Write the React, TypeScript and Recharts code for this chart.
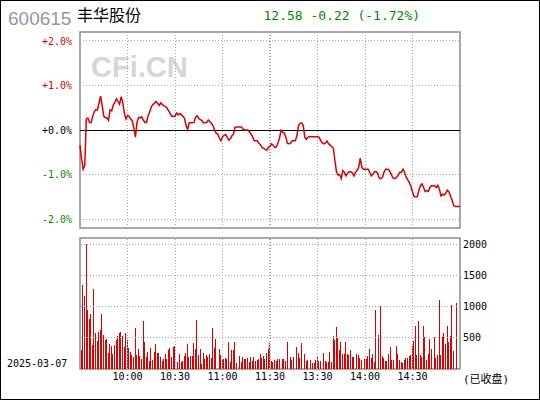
import React from 'react';
import { LineChart, Line, BarChart, Bar, XAxis, YAxis, ReferenceLine, ReferenceArea } from 'recharts';

const stockCode = '600615';
const stockName = '丰华股份';
const tradeDate = '2025-03-07';
const closedText = '(已收盘)';
const prevClose = 12.8;
const lastPrice = 12.58;

// % change vs previous close, one value per trading minute (09:30 .. 15:00)
const pctChange = [
  -0.34, -0.65, -0.88, -0.80, 0.25, 0.27, 0.17, 0.17, 0.30, 0.41,
  0.46, 0.45, 0.60, 0.76, 0.55, 0.31, 0.28, 0.27, 0.22, 0.45,
  0.43, 0.56, 0.62, 0.70, 0.64, 0.58, 0.75, 0.62, 0.38, 0.25,
  0.32, 0.31, 0.25, 0.21, 0.05, -0.16, 0.17, 0.28, 0.27, 0.30,
  0.22, 0.17, 0.17, 0.32, 0.40, 0.52, 0.57, 0.60, 0.64, 0.60,
  0.55, 0.61, 0.57, 0.54, 0.53, 0.49, 0.43, 0.37, 0.31, 0.31,
  0.31, 0.38, 0.34, 0.37, 0.34, 0.31, 0.26, 0.10, 0.01, 0.16,
  0.16, 0.16, 0.17, 0.29, 0.32, 0.26, 0.23, 0.21, 0.16, 0.17,
  0.17, 0.22, 0.19, 0.15, 0.10, 0.00, -0.07, -0.09, -0.18, -0.24,
  -0.15, -0.12, -0.10, -0.16, -0.23, -0.19, -0.13, -0.09, 0.07, 0.07,
  0.07, 0.07, 0.07, 0.02, 0.00, 0.00, 0.00, -0.04, -0.09, -0.15,
  -0.24, -0.24, -0.24, -0.30, -0.33, -0.39, -0.41, -0.44, -0.45, -0.39,
  -0.37, -0.31, -0.34, -0.39, -0.38, -0.30, -0.18, -0.01, -0.05, -0.07,
  -0.16, -0.30, -0.31, -0.30, -0.24, -0.24, -0.24, -0.13, 0.10, 0.15,
  0.16, 0.10, -0.16, -0.21, -0.16, -0.15, -0.15, -0.15, -0.15, -0.15,
  -0.15, -0.16, -0.24, -0.29, -0.31, -0.29, -0.25, -0.31, -0.34, -0.37,
  -0.41, -0.69, -0.94, -1.01, -1.00, -1.09, -0.91, -0.95, -1.03, -0.97,
  -0.94, -0.94, -0.96, -1.03, -0.95, -0.91, -0.84, -0.63, -0.84, -0.88,
  -0.88, -0.88, -0.88, -0.95, -1.03, -0.99, -0.94, -0.94, -0.97, -1.08,
  -1.09, -1.06, -0.95, -0.88, -0.88, -0.89, -0.95, -1.03, -1.09, -1.09,
  -1.06, -1.01, -0.95, -0.95, -0.88, -0.95, -1.06, -1.12, -1.18, -1.27,
  -1.39, -1.49, -1.50, -1.50, -1.36, -1.25, -1.21, -1.29, -1.38, -1.36,
  -1.38, -1.29, -1.25, -1.25, -1.25, -1.29, -1.24, -1.33, -1.48, -1.44,
  -1.46, -1.42, -1.35, -1.39, -1.48, -1.57, -1.70, -1.72, -1.72, -1.72,
  -1.72,
];

// volume per minute
const volumes = [
  0, 310, 1350, 1170, 2000, 950, 805, 885, 390, 1280,
  575, 455, 600, 620, 885, 550, 470, 485, 255, 405,
  375, 245, 390, 470, 535, 575, 600, 535, 345, 570,
  470, 340, 275, 230, 185, 660, 230, 325, 210, 155,
  775, 435, 195, 275, 130, 340, 140, 275, 405, 260,
  260, 195, 130, 155, 245, 165, 310, 330, 195, 345,
  375, 0, 120, 245, 115, 130, 210, 260, 405, 195,
  210, 210, 420, 325, 790, 230, 325, 75, 260, 165,
  230, 195, 245, 180, 660, 340, 485, 0, 325, 230,
  165, 165, 180, 165, 435, 115, 310, 300, 435, 100,
  0, 210, 115, 195, 165, 165, 180, 115, 195, 130,
  195, 130, 150, 165, 245, 180, 210, 165, 250, 325,
  420, 130, 115, 150, 130, 165, 165, 0, 165, 165,
  130, 435, 0, 195, 150, 195, 0, 355, 260, 180,
  420, 0, 245, 130, 150, 0, 150, 100, 100, 150,
  210, 130, 130, 0, 260, 130, 115, 115, 275, 115,
  535, 470, 680, 500, 310, 435, 245, 245, 435, 245,
  230, 310, 195, 195, 0, 245, 230, 180, 150, 0,
  165, 165, 210, 325, 180, 245, 115, 950, 0, 550,
  1010, 210, 180, 130, 130, 245, 355, 150, 150, 0,
  375, 245, 150, 115, 100, 150, 180, 180, 210, 230,
  375, 455, 695, 230, 775, 230, 195, 695, 515, 150,
  245, 485, 325, 0, 515, 180, 230, 1110, 230, 515,
  580, 405, 695, 435, 535, 1030, 295, 0, 1060, 0,
  0,
];

const pctTicks = [-2, -1, 0, 1, 2];
const volumeTicks = [500, 1000, 1500, 2000];
const timeTicks = [30, 60, 90, 120, 150, 180, 210];
const timeLabels = ['10:00', '10:30', '11:00', '11:30', '13:30', '14:00', '14:30'];
// the lunch break is drawn as two close lines
const gridMinutes = [30, 60, 90, 119.4, 120.6, 150, 180, 210];

const priceData = pctChange.map((p, i) => ({ t: i, p }));
const volumeData = volumes.map((v, i) => ({ t: i, v }));

const MONO = '"DejaVu Sans Mono", monospace';
const RED = '#dd0000';
const GREEN = '#008c00';
const GRID = '#a8a8a8';
const FRAME = '#8c8c8c';

const signColor = (v: number) => (v > 0 ? RED : v < 0 ? GREEN : '#000');

const PctTick = (props: any) => {
  const { x, y, payload } = props;
  const v = payload.value;
  const label = `${v >= 0 ? '+' : ''}${v.toFixed(1)}%`;
  return (
    <text x={x} y={y} dy={3.6} textAnchor="end" fontFamily={MONO} fontSize={10} fill={signColor(v)}>
      {label}
    </text>
  );
};

const PriceTick = (props: any) => {
  const { x, y, payload } = props;
  const v = payload.value;
  return (
    <text x={x} y={y} dy={3.6} textAnchor="start" fontFamily={MONO} fontSize={10} fill={signColor(v)}>
      {(prevClose * (1 + v / 100)).toFixed(2)}
    </text>
  );
};

const VolTick = (props: any) => {
  const { x, y, payload } = props;
  return (
    <text x={x} y={y} dy={3.6} textAnchor="start" fontFamily={MONO} fontSize={10} fill="#000">
      {payload.value}
    </text>
  );
};

const TimeTick = (props: any) => {
  const { x, y, payload } = props;
  const idx = timeTicks.indexOf(payload.value);
  return (
    <text x={x} y={y} dy={9} textAnchor="middle" fontFamily={MONO} fontSize={10} fill="#000">
      {timeLabels[idx]}
    </text>
  );
};

const VolBar = (props: any) => {
  const { x, y, width, height } = props;
  if (!height || height <= 0) return null;
  return <rect x={Math.round(x + width / 2 - 0.5)} y={y} width={1} height={height} fill={RED} shapeRendering="crispEdges" />;
};

export default function App() {
  const change = lastPrice - prevClose;
  const changePct = (change / prevClose) * 100;
  const quote = `${lastPrice.toFixed(2)} ${change.toFixed(2)} (${changePct.toFixed(2)}%)`;

  return (
    <div style={{ position: 'absolute', left: 0, top: 0, width: 540, height: 400, background: '#fff', overflow: 'hidden' }}>
      <svg width={540} height={400} style={{ position: 'absolute', left: 0, top: 0 }}>
        <text x={8} y={25} fontFamily='"Liberation Sans", Arial, sans-serif' fontSize={19} fill="#8d99a5">{stockCode}</text>
        <text x={77} y={21} fontFamily='"Noto Sans CJK SC", sans-serif' fontSize={16} fill="#000">{stockName}</text>
        <text x={263.5} y={19.7} fontFamily={MONO} fontSize={13} fill={GREEN}>{quote}</text>
        <text x={91} y={77} fontFamily='"Liberation Sans", Arial, sans-serif' fontWeight="bold" fontSize={29} fill="#d6d6d6">CFi.CN</text>
        <text x={7} y={367.3} fontFamily={MONO} fontSize={10} fill="#000">{tradeDate}</text>
        <text x={463} y={383} fontFamily={`${MONO}, "Noto Sans CJK SC"`} fontSize={11} fill="#000">{closedText}</text>
      </svg>

      <div style={{ position: 'absolute', left: 0, top: 0 }}>
        <LineChart width={540} height={240} data={priceData} margin={{ top: 32, right: 0, bottom: 12, left: 0 }}>
          <XAxis dataKey="t" type="number" domain={[0, 240]} hide />
          <YAxis yAxisId="pct" orientation="left" width={80} type="number" domain={[-2.2, 2.2]} ticks={pctTicks}
            tick={<PctTick />} tickSize={0} tickMargin={8} axisLine={false} tickLine={false} />
          <YAxis yAxisId="price" orientation="right" width={80} type="number" domain={[-2.2, 2.2]} ticks={pctTicks}
            tick={<PriceTick />} tickSize={0} tickMargin={2} axisLine={false} tickLine={false} />
          {gridMinutes.map((m) => (
            <ReferenceLine key={`v${m}`} yAxisId="pct" x={m} stroke={GRID} strokeDasharray="1 2" shapeRendering="crispEdges" />
          ))}
          {pctTicks.filter((v) => v !== 0).map((v) => (
            <ReferenceLine key={`h${v}`} yAxisId="pct" y={v} stroke={GRID} strokeDasharray="1 2" shapeRendering="crispEdges" />
          ))}
          <ReferenceLine yAxisId="pct" y={0} stroke="#000" strokeWidth={1} shapeRendering="crispEdges" />
          <ReferenceArea yAxisId="pct" x1={0} x2={240} y1={-2.2} y2={2.2} fill="none" stroke={FRAME} strokeWidth={1.5} />
          <Line yAxisId="pct" dataKey="p" type="linear" stroke={RED} strokeWidth={1.5} dot={false} isAnimationActive={false} />
        </LineChart>
      </div>

      <div style={{ position: 'absolute', left: 0, top: 230 }}>
        <BarChart width={540} height={170} data={volumeData} margin={{ top: 8, right: 0, bottom: 0, left: 80 }} barSize={1}>
          <XAxis dataKey="t" type="number" domain={[0, 240]} ticks={timeTicks} height={31} tick={<TimeTick />}
            tickSize={0} tickMargin={2} axisLine={false} tickLine={false} allowDataOverflow />
          <YAxis yAxisId="vol" orientation="right" width={80} type="number" domain={[0, 2096]} ticks={volumeTicks}
            tick={<VolTick />} tickSize={0} tickMargin={3} axisLine={false} tickLine={false} />
          {gridMinutes.map((m) => (
            <ReferenceLine key={`vv${m}`} yAxisId="vol" x={m} stroke={GRID} strokeDasharray="1 2" shapeRendering="crispEdges" />
          ))}
          {volumeTicks.map((v) => (
            <ReferenceLine key={`vh${v}`} yAxisId="vol" y={v} stroke={GRID} strokeDasharray="1 2" shapeRendering="crispEdges" />
          ))}
          <ReferenceArea yAxisId="vol" x1={0} x2={240} y1={0} y2={2096} fill="none" stroke={FRAME} strokeWidth={1.5} />
          <Bar yAxisId="vol" dataKey="v" fill={RED} shape={<VolBar />} isAnimationActive={false} />
        </BarChart>
      </div>

      <div style={{ position: 'absolute', left: 0, top: 0, width: 540, height: 400, boxSizing: 'border-box', border: '1.5px solid #000', pointerEvents: 'none' }} />
    </div>
  );
}
